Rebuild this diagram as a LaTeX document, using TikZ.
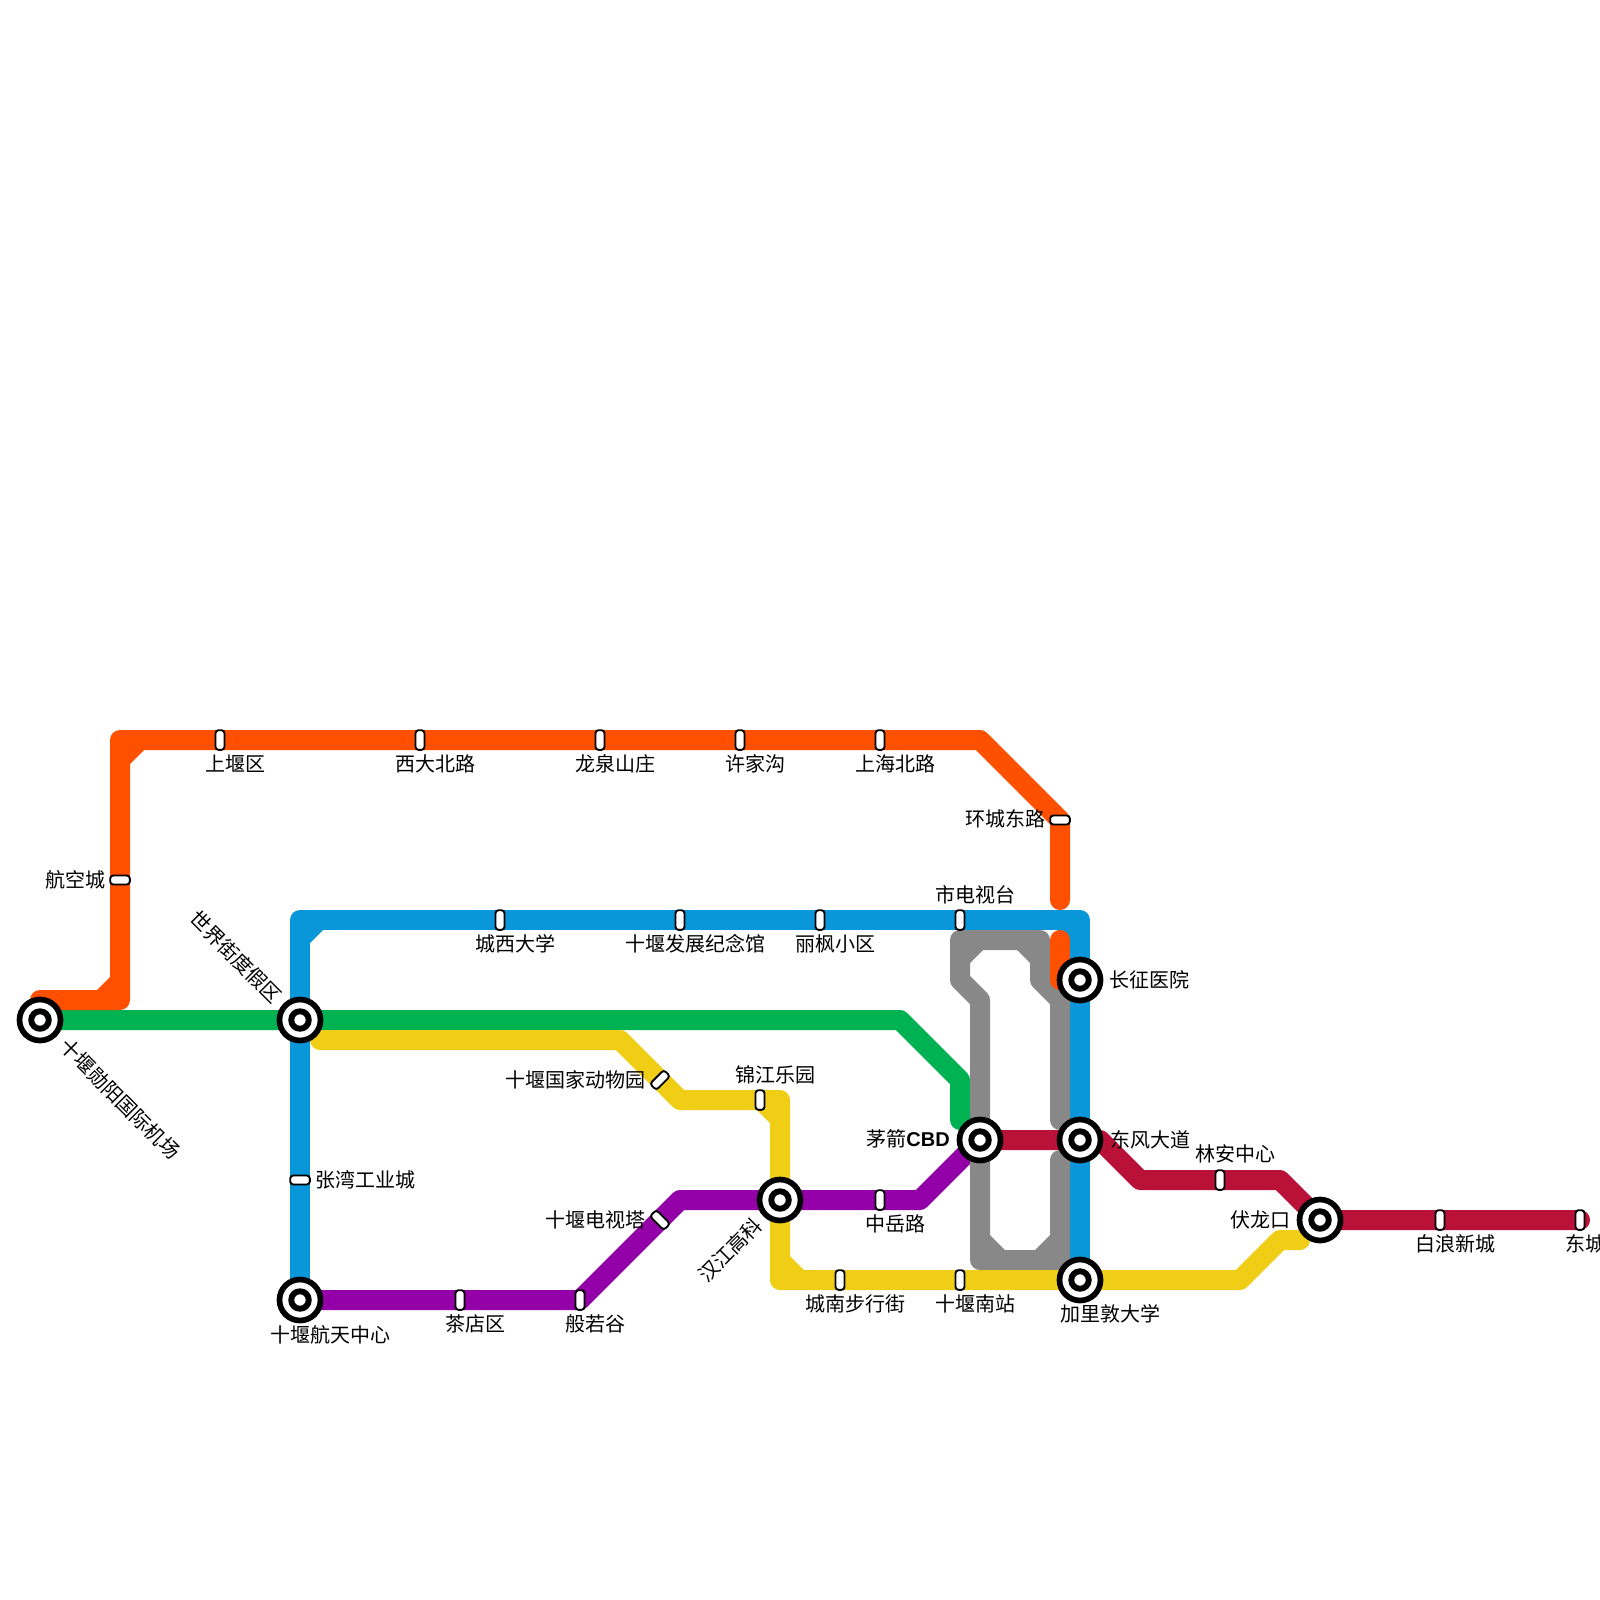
\documentclass[tikz,border=0pt]{standalone}
\usepackage{fontspec}
\setmainfont{Noto Sans CJK SC}
\newfontfamily\latinbold{Liberation Sans}
\definecolor{lorange}{HTML}{FF5000}
\definecolor{lblue}{HTML}{0A97D9}
\definecolor{lgreen}{HTML}{00B251}
\definecolor{lyellow}{HTML}{F0CE15}
\definecolor{lpurple}{HTML}{9400A8}
\definecolor{lgrey}{HTML}{888888}
\definecolor{lred}{HTML}{BA1138}
\pgfdeclarelayer{lines}
\pgfsetlayers{lines,main}
\tikzset{
  metro/.style={line width=20pt,line cap=round,line join=round},
  hub/.style={circle,draw=black,fill=white,line width=5.7pt,minimum size=41pt,inner sep=0pt},
  hubeye/.style={circle,draw=black,fill=white,line width=5.9pt,minimum size=17.5pt,inner sep=0pt},
  vstop/.style={rectangle,rounded corners=3pt,draw=black,fill=white,line width=1.9pt,minimum width=9pt,minimum height=19.6pt,inner sep=0pt},
  hstop/.style={rectangle,rounded corners=3pt,draw=black,fill=white,line width=1.9pt,minimum width=19.6pt,minimum height=9pt,inner sep=0pt},
  lbl/.style={inner sep=0pt,font=\fontsize{20pt}{20pt}\selectfont,text height=15pt,text depth=0pt,text=black},
}
\begin{document}
\begin{tikzpicture}[x=1pt,y=-1pt]
\useasboundingbox (0,0) rectangle (1600,1600);
% bends
\foreach \n/\x/\y in {
 oa/40/1000,ob/120/1000,oc/120/740,od/980/740,oe/1060/820,of/1060/900,og/1060/940,oh/1060/980,
 ba/300/920,bb/1080/920,
 ga/900/1020,gb/960/1080,gc/960/1120,
 ya/320/1040,yb/620/1040,yc/680/1100,yd/780/1100,ye/780/1280,yf/1240/1280,yg/1280/1240,yh/1300/1240,
 pa/580/1300,pb/680/1200,pc/920/1200,
 ra/1100/1140,rb/1140/1180,rc/1280/1180,rd/1580/1220,
 ea/1060/1120,eb/1060/1000,ec/1040/980,ed/1040/940,ee/960/940,ef/960/980,eg/980/1000,eh/980/1260,ei/1060/1260,ej/1060/1160}
 {\coordinate (\n) at (\x,\y);}
% interchange stations
\foreach \n/\x/\y in {airport/40/1020,world/300/1020,space/300/1300,hanjiang/780/1200,maojian/980/1140,dongfeng/1080/1140,changzheng/1080/980,jiali/1080/1280,fulong/1320/1220}{
  \node[hub] (\n) at (\x,\y) {};
  \node[hubeye] (\n-eye) at (\x,\y) {};
}
% small stations
\node[vstop] (s1) at (220,740) {};
\node[vstop] (s2) at (420,740) {};
\node[vstop] (s3) at (600,740) {};
\node[vstop] (s4) at (740,740) {};
\node[vstop] (s5) at (880,740) {};
\node[hstop] (s6) at (120,880) {};
\node[hstop] (s7) at (1060,820) {};
\node[vstop] (s8) at (500,920) {};
\node[vstop] (s9) at (680,920) {};
\node[vstop] (s10) at (820,920) {};
\node[vstop] (s11) at (960,920) {};
\node[hstop] (s12) at (300,1180) {};
\node[vstop] (s13) at (460,1300) {};
\node[vstop] (s14) at (580,1300) {};
\node[hstop,rotate=-45] (s15) at (660,1220) {};
\node[vstop] (s16) at (880,1200) {};
\node[hstop,rotate=45] (s17) at (660,1080) {};
\node[vstop] (s18) at (760,1100) {};
\node[vstop] (s19) at (840,1280) {};
\node[vstop] (s20) at (960,1280) {};
\node[vstop] (s21) at (1220,1180) {};
\node[vstop] (s22) at (1440,1220) {};
\node[vstop] (s23) at (1580,1220) {};
% lines
\begin{pgfonlayer}{lines}
\fill[lblue] (310,930) -- (323,930) -- (310,943) -- cycle;
\fill[lblue] (1070,930) -- (1057,930) -- (1070,943) -- cycle;
\draw[metro,lblue] (space.center) -- (ba) -- (bb) -- (jiali.center);
\draw[metro,lpurple] (space.center) -- (pa) -- (pb) -- (pc) -- (maojian.center);
\draw[metro,lgreen] (airport.center) -- (ga) -- (gb) -- (gc);
\fill[lgrey] (970,950) -- (983,950) -- (970,963) -- cycle;
\fill[lgrey] (1030,950) -- (1017,950) -- (1030,963) -- cycle;
\fill[lgrey] (990,1250) -- (1005,1250) -- (990,1235) -- cycle;
\fill[lgrey] (1050,1250) -- (1035,1250) -- (1050,1235) -- cycle;
\draw[metro,lgrey] (ea) -- (eb) -- (ec) -- (ed) -- (ee) -- (ef) -- (eg) -- (eh) -- (ei) -- (ej);
\fill[lorange] (110,990) -- (97,990) -- (110,977) -- cycle;
\fill[lorange] (130,750) -- (144,750) -- (130,764) -- cycle;
\draw[metro,lorange] (oa) -- (ob) -- (oc) -- (od) -- (oe) -- (of);
\draw[metro,lorange] (og) -- (oh);
\fill[lyellow] (770,1110) -- (757,1110) -- (770,1123) -- cycle;
\fill[lyellow] (790,1270) -- (804,1270) -- (790,1256) -- cycle;
\draw[metro,lyellow] (ya) -- (yb) -- (yc) -- (yd) -- (ye) -- (yf) -- (yg) -- (yh);
\draw[metro,lred] (maojian.center) -- (ra) -- (rb) -- (rc) -- (fulong.center) -- (rd);
\end{pgfonlayer}
% labels
\foreach \n/\x/\y/\t in {
 la/235/764/上堰区,lb/435/764/西大北路,lc/615/764/龙泉山庄,ld/755/764/许家沟,le/895/764/上海北路,
 lf/515/944/城西大学,lg/695/944/十堰发展纪念馆,lh/835/944/丽枫小区,li/975/895/市电视台,
 lj/775/1075/锦江乐园,lk/1235/1154/林安中心,ll/895/1224/中岳路,lm/475/1324/茶店区,ln/595/1324/般若谷,
 lo/855/1304/城南步行街,lp/975/1304/十堰南站,lq/1455/1244/白浪新城,lr/1110/1314/加里敦大学,ls/330/1335/十堰航天中心}
 {\node[lbl] (\n) at (\x,\y) {\t};}
\node[lbl,anchor=west] (lt) at (1565,1244) {东城};
\node[lbl,anchor=east] (lu) at (106,880) {航空城};
\node[lbl,anchor=east] (lv) at (1045.5,819) {环城东路};
\node[lbl,anchor=west] (lw) at (315,1180) {张湾工业城};
\node[lbl,anchor=east] (lx) at (645.5,1080) {十堰国家动物园};
\node[lbl,anchor=east] (ly) at (645.5,1220) {十堰电视塔};
\node[lbl,anchor=west] (lz) at (1109,980) {长征医院};
\node[lbl,anchor=west] (laa) at (1110,1139.5) {东风大道};
\node[lbl,anchor=east] (lab) at (1290.5,1219.5) {伏龙口};
\node[lbl,anchor=east] (lac) at (950,1139) {茅箭{\latinbold\bfseries CBD}};
\node[lbl,rotate=-45] (lad) at (120,1099) {十堰勋阳国际机场};
\node[lbl,rotate=-45] (lae) at (236,957) {世界街度假区};
\node[lbl,rotate=45] (laf) at (730,1250) {汉江高科};
\end{tikzpicture}
\end{document}
